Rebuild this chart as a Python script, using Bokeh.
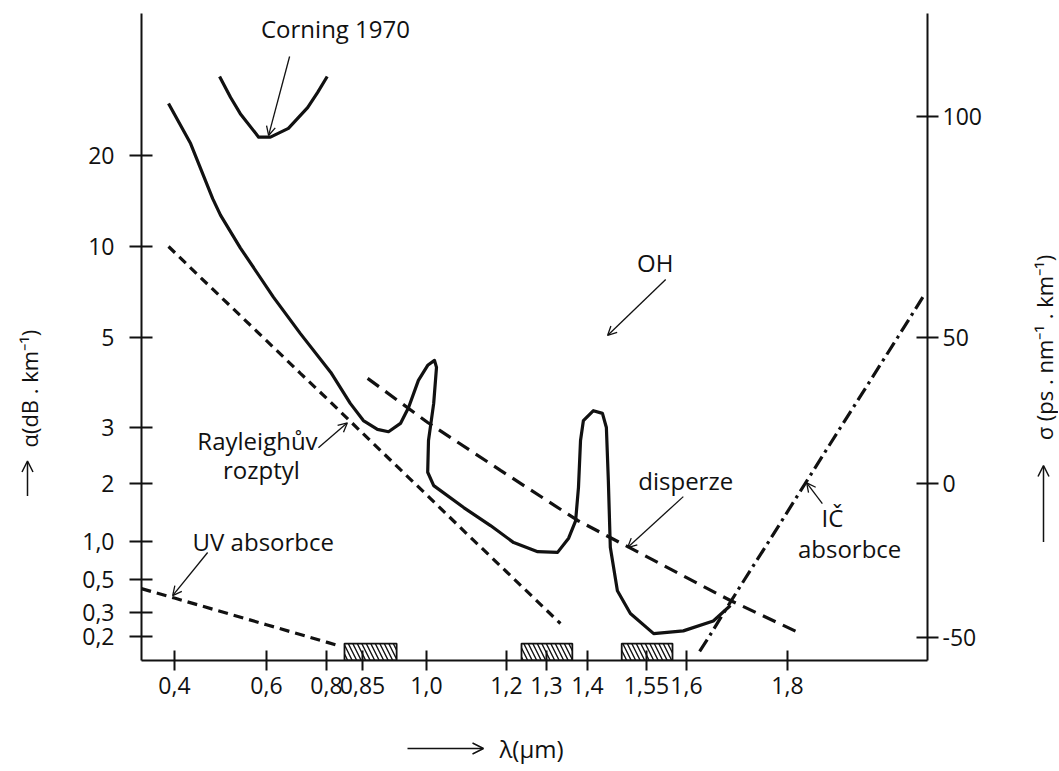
import numpy as np
from bokeh.plotting import figure
from bokeh.layouts import row, column
from bokeh.models import Range1d, FixedTicker, LinearAxis, Label, Arrow, OpenHead
from bokeh.embed import file_html
from bokeh.resources import INLINE

# ---------------- axis calibration (hand-drawn, non-uniform scales) ----------------
X_TICK_VALUES = [0.4, 0.6, 0.8, 0.85, 1.0, 1.2, 1.3, 1.4, 1.55, 1.6, 1.8]
X_TICK_LABELS = ["0,4", "0,6", "0,8", "0,85", "1,0", "1,2", "1,3", "1,4", "1,55", "1,6", "1,8"]
X_AXIS_POS = [33, 125, 185, 221, 285, 365, 405, 446, 505, 545, 646]

Y_TICK_VALUES = [0.1, 0.2, 0.3, 0.5, 1.0, 2, 3, 5, 10, 20]
Y_TICK_LABELS = ["0,1", "0,2", "0,3", "0,5", "1,0", "2", "3", "5", "10", "20"]
Y_AXIS_POS = [0, 24, 48, 81, 119, 177, 233, 323, 414, 505]

S_TICK_VALUES = [-50, 0, 50, 100]
S_TICK_LABELS = ["-50", "0", "50", "100"]
S_AXIS_POS = [23, 177, 323, 544]

# ---------------- data ----------------
# total attenuation of fibre (dB/km) vs wavelength (um)
LAM_TOTAL = [0.387, 0.435, 0.483, 0.5, 0.543, 0.623, 0.713, 0.806, 0.833, 0.852, 0.885,
             0.911, 0.939, 0.958, 0.981, 1.003, 1.02, 1.025, 1.018, 1.005, 1.003, 1.018,
             1.093, 1.16, 1.218, 1.278, 1.327, 1.354, 1.371, 1.378, 1.383, 1.39, 1.415,
             1.438, 1.448, 1.453, 1.458, 1.476, 1.509, 1.559, 1.596, 1.653, 1.687]
ALPHA_TOTAL = [29.7, 21.9, 14.4, 12.7, 9.9, 6.8, 5.15, 4.1, 3.44, 3.12, 2.96,
               2.91, 3.07, 3.36, 3.92, 4.27, 4.39, 4.22, 3.44, 2.73, 2.17, 1.95,
               1.5, 1.21, 0.98, 0.83, 0.82, 1.04, 1.28, 1.91, 2.73, 3.12, 3.3,
               3.25, 3.0, 2.04, 0.9, 0.42, 0.295, 0.21, 0.22, 0.26, 0.334]

# Corning 1970 fibre
LAM_CORNING = [0.498, 0.522, 0.543, 0.583, 0.613, 0.673, 0.737, 0.77, 0.801]
ALPHA_CORNING = [36.5, 31.1, 27.5, 23.0, 23.0, 24.6, 28.8, 32.3, 36.5]

# Rayleigh scattering
LAM_RAYLEIGH = [0.387, 0.4565, 0.543, 0.6, 0.713, 0.806, 0.85, 0.939, 1.0, 1.1, 1.2, 1.3, 1.334]
ALPHA_RAYLEIGH = [10.0, 7.9, 5.91, 4.91, 4.08, 3.46, 2.88, 2.21, 1.75, 1.10, 0.576, 0.311, 0.249]

# UV absorption
LAM_UV = [0.328, 0.4, 0.6, 0.8, 0.815]
ALPHA_UV = [0.434, 0.375, 0.244, 0.170, 0.155]

# IR absorption
LAM_IR = [1.626, 1.645, 1.674, 1.715, 1.763, 1.835, 1.905, 2.018, 2.068]
ALPHA_IR = [0.13, 0.2, 0.3, 0.5, 1.0, 2.0, 3.0, 5.0, 6.8]

# dispersion (ps/nm/km), right axis
LAM_DISP = [0.862, 1.003, 1.185, 1.376, 1.555, 1.687, 1.826]
SIGMA_DISP = [36.0, 20.9, 4.5, -12.0, -24.4, -38.0, -48.7]

# transmission windows
BAND_CENTER = [0.85, 1.3, 1.55]
BAND_LO = [0.825, 1.2375, 1.487]
BAND_HI = [0.93, 1.363, 1.5825]


def piecewise(v, xv, xp):
    v = np.atleast_1d(np.asarray(v, dtype=float))
    xv = np.asarray(xv, dtype=float)
    xp = np.asarray(xp, dtype=float)
    out = np.interp(v, xv, xp)
    lo = v < xv[0]
    hi = v > xv[-1]
    out[lo] = xp[0] + (v[lo] - xv[0]) * (xp[1] - xp[0]) / (xv[1] - xv[0])
    out[hi] = xp[-1] + (v[hi] - xv[-1]) * (xp[-1] - xp[-2]) / (xv[-1] - xv[-2])
    return out


def X(lam):
    return piecewise(lam, X_TICK_VALUES, X_AXIS_POS)


def YA(alpha):
    return piecewise(np.log10(np.asarray(alpha, dtype=float)), np.log10(Y_TICK_VALUES), Y_AXIS_POS)


def YS(sigma):
    return piecewise(sigma, S_TICK_VALUES, S_AXIS_POS)


def pt(lam, alpha):
    return float(X(lam)[0]), float(YA(alpha)[0])


FONT = "Open Sans"
INK = "#111111"

p = figure(width=975, height=720, x_range=Range1d(0, 786), y_range=Range1d(0, 647),
           output_backend="svg", toolbar_location=None,
           min_border_left=86, min_border_right=103, min_border_top=13, min_border_bottom=60)
p.grid.visible = False
p.outline_line_color = None
p.background_fill_color = "white"
p.border_fill_color = "white"


def style_axis(ax, tin, tout, standoff):
    ax.axis_line_width = 2
    ax.axis_line_color = INK
    ax.major_tick_line_width = 2
    ax.major_tick_line_color = INK
    ax.major_tick_in = tin
    ax.major_tick_out = tout
    ax.minor_tick_line_color = None
    ax.major_label_text_font = FONT
    ax.major_label_text_font_size = "23px"
    ax.major_label_text_color = INK
    ax.major_label_standoff = standoff


xa = p.xaxis[0]
xa.ticker = FixedTicker(ticks=X_AXIS_POS)
xa.major_label_overrides = {k: s for k, s in zip(X_AXIS_POS, X_TICK_LABELS)}
style_axis(xa, 10, 10, 6)

ya = p.yaxis[0]
ya.ticker = FixedTicker(ticks=Y_AXIS_POS[1:])
ya.major_label_overrides = {k: s for k, s in zip(Y_AXIS_POS[1:], Y_TICK_LABELS[1:])}
style_axis(ya, 11, 12, 15)

ra = LinearAxis(ticker=FixedTicker(ticks=S_AXIS_POS),
                major_label_overrides={k: s for k, s in zip(S_AXIS_POS, S_TICK_LABELS)})
style_axis(ra, 11, 11, 4)
p.add_layout(ra, "right")

# "0,1" label at the axis corner
p.add_layout(Label(x=0, y=Y_AXIS_POS[0], text=Y_TICK_LABELS[0], x_offset=-28,
                   text_align="right", text_baseline="middle",
                   text_font=FONT, text_font_size="23px", text_color=INK))

# ---------------- curves ----------------
LW = 3.2
p.line(X(LAM_UV), YA(ALPHA_UV), line_width=LW, line_color=INK, line_dash="10 6")
p.line(X(LAM_RAYLEIGH), YA(ALPHA_RAYLEIGH), line_width=LW, line_color=INK, line_dash="9 6")
p.line(X(LAM_DISP), YS(SIGMA_DISP), line_width=LW, line_color=INK, line_dash="14 8")
p.line(X(LAM_IR), YA(ALPHA_IR), line_width=LW, line_color=INK, line_dash="14 5 3 5")
p.line(X(LAM_CORNING), YA(ALPHA_CORNING), line_width=LW, line_color=INK, line_join="round")
p.line(X(LAM_TOTAL), YA(ALPHA_TOTAL), line_width=LW, line_color=INK, line_join="round")

BAND_TOP = 0.163  # marker height of the window boxes
p.quad(left=X(BAND_LO), right=X(BAND_HI), bottom=Y_AXIS_POS[0], top=YA([BAND_TOP] * 3),
       fill_color="white", line_color=INK, line_width=1.8,
       hatch_pattern="\\", hatch_color=INK, hatch_weight=1.4, hatch_scale=9)

# ---------------- annotations ----------------
def label(lam, alpha, text, align="center", size="24px"):
    x, y = pt(lam, alpha)
    p.add_layout(Label(x=x, y=y, text=text, text_align=align, text_baseline="middle",
                       text_font=FONT, text_font_size=size, text_color=INK))


def pointer(l0, a0, l1, a1):
    x0, y0 = pt(l0, a0)
    x1, y1 = pt(l1, a1)
    p.add_layout(Arrow(end=OpenHead(size=9, line_width=1.3, line_color=INK),
                       x_start=x0, y_start=y0, x_end=x1, y_end=y1,
                       line_width=1.3, line_color=INK))


label(0.8125, 52.6, "Corning 1970")
pointer(0.677, 42.5, 0.607, 23.3)

label(1.561, 8.85, "OH")
pointer(1.574, 7.78, 1.451, 5.08)

label(0.5804, 2.73, "Rayleighův")
label(0.589, 2.22, "rozptyl")
pointer(0.773, 2.59, 0.829, 3.08)

label(0.593, 1.0, "UV absorbce")
pointer(0.472, 0.818, 0.396, 0.39)

label(1.599, 2.04, "disperze")
pointer(1.596, 1.71, 1.502, 0.896)

label(1.889, 1.332, "IČ")
label(1.923, 0.88, "absorbce")
pointer(1.869, 1.574, 1.838, 2.01)


# ---------------- axis titles in margin strips ----------------
def strip(w, h):
    f = figure(width=w, height=h, x_range=Range1d(0, w), y_range=Range1d(0, h),
               output_backend="svg", toolbar_location=None, min_border=0,
               x_axis_location=None, y_axis_location=None)
    f.grid.visible = False
    f.outline_line_color = None
    f.background_fill_color = "white"
    f.border_fill_color = "white"
    return f


def strip_arrow(f, x0, y0, x1, y1):
    f.add_layout(Arrow(end=OpenHead(size=11, line_width=1.5, line_color=INK),
                       x_start=x0, y_start=y0, x_end=x1, y_end=y1,
                       line_width=1.5, line_color=INK))


left = strip(55, 720)
left.add_layout(Label(x=28, y=237, angle=np.pi / 2, text="α(dB . km⁻¹)",
                      text_align="left", text_baseline="middle",
                      text_font=FONT, text_font_size="22px", text_color=INK))
strip_arrow(left, 27, 183, 27, 222)

right = strip(28, 720)
right.add_layout(Label(x=13, y=245, angle=np.pi / 2, text="σ (ps . nm⁻¹ . km⁻¹)",
                       text_align="left", text_baseline="middle",
                       text_font=FONT, text_font_size="22px", text_color=INK))
strip_arrow(right, 13, 132, 13, 217)

bottom = strip(1058, 50)
strip_arrow(bottom, 407, 22, 483, 22)
bottom.add_layout(Label(x=499, y=22, text="λ(µm)", text_align="left", text_baseline="middle",
                        text_font=FONT, text_font_size="24px", text_color=INK))

layout = column(row(left, p, right), bottom)
open("out.html", "w").write(file_html(layout, INLINE))
